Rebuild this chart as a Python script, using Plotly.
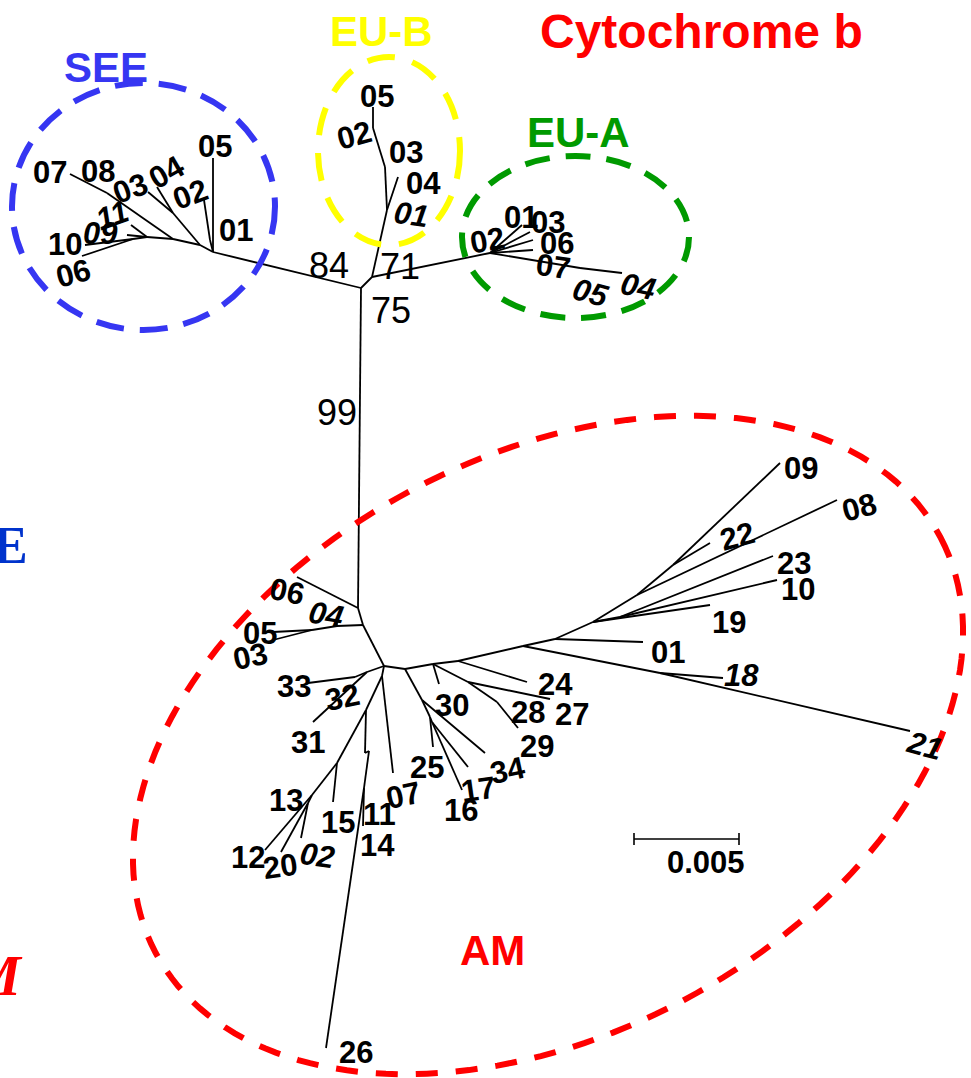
import numpy as np
import plotly.graph_objects as go

# ---------------------------------------------------------------
# Unrooted neighbour-joining tree of cytochrome b haplotypes.
# Node coordinates are the drawn layout of the tree (screen units,
# y grows downwards); every node points to its parent.
# ---------------------------------------------------------------
NODE_ID = [
    "root", "eu", "s0", "am0",
    # SEE clade
    "s2", "s4", "SEE03", "SEE04", "s3", "s5", "SEE07", "s6", "SEE11", "SEE09",
    "s8", "SEE10", "SEE06", "s1", "SEE02", "SEE05",
    # EU-B clade
    "eb1", "EUB04", "eb2", "eb3", "EUB05",
    # EU-A clade
    "ea0", "EUA01", "EUA03", "EUA06", "EUA07", "ea1", "EUA04",
    # AM clade
    "AM06", "am1", "am2", "AM04", "am3", "AM05", "AM03", "amc",
    "c1", "AM31", "c2", "AM33",
    "e", "AM07", "f", "h", "h2", "h3", "AM26", "AM14",
    "g", "AM15", "i", "AM12", "j", "AM20", "AM02",
    "k", "l", "AM34", "m", "AM25", "n", "AM16", "AM17",
    "k2", "AM30", "p", "AM27", "q", "AM29", "k3", "AM24",
    "r", "s", "AM21", "AM18", "t", "AM01", "u", "v", "AM23", "AM10", "AM19",
    "y", "AM08", "z", "AM22", "AM09",
]
NODE_X = [
    361, 372, 213, 358,
    200, 173, 148, 157, 173, 107, 70, 147, 131, 127,
    133, 85, 82, 210, 204, 213,
    387, 398, 385, 373, 373,
    490, 522, 530, 533, 533, 580, 622,
    297, 363, 337, 336, 312, 273, 273, 384,
    367, 313, 355, 308,
    382, 393, 366, 365, 369, 364, 326, 363,
    337, 333, 312, 265, 308, 281, 301,
    405, 422, 485, 430, 433, 432, 462, 468,
    433, 439, 468, 550, 497, 518, 458, 527,
    523, 660, 910, 723, 555, 643, 593, 620, 773, 777, 710,
    637, 837, 673, 710, 780,
]
NODE_Y = [
    288, 277, 252, 608,
    245, 213, 192, 187, 239, 193, 174, 237, 225, 235,
    239, 245, 256, 240, 200, 158,
    210, 177, 167, 128, 107,
    253, 225, 232, 240, 250, 268, 273,
    577, 625, 626, 620, 630, 632, 640, 666,
    672, 722, 677, 683,
    676, 773, 710, 753, 751, 788, 1048, 826,
    763, 802, 795, 850, 803, 852, 838,
    669, 700, 753, 717, 747, 722, 790, 767,
    664, 684, 682, 699, 702, 728, 661, 682,
    646, 673, 731, 678, 639, 642, 622, 617, 556, 580, 605,
    595, 500, 565, 543, 463,
]
NODE_PARENT = [
    None, "root", "root", "root",
    "s0", "s2", "s4", "s4", "s2", "s3", "s5", "s3", "s6", "s6",
    "s6", "s8", "s8", "s0", "s1", "s0",
    "eu", "eb1", "eb1", "eb2", "eb3",
    "eu", "ea0", "ea0", "ea0", "ea0", "ea0", "ea1",
    "am0", "am0", "am1", "am2", "am2", "am3", "am3", "am1",
    "amc", "c1", "c1", "c2",
    "amc", "e", "e", "f", "h", "h2", "h3", "h3",
    "f", "g", "g", "i", "i", "j", "j",
    "amc", "k", "l", "l", "m", "m", "n", "n",
    "k", "k2", "k2", "p", "p", "q", "k2", "k3",
    "k3", "r", "s", "s", "r", "t", "t", "u", "v", "v", "u",
    "u", "y", "y", "z", "z",
]

# Haplotype labels: node -> text
HAPLOTYPE = {
    "SEE07": "07", "s5": "08", "SEE03": "03", "SEE04": "04", "SEE02": "02",
    "SEE05": "05", "s1": "01", "SEE11": "11", "SEE09": "09", "SEE10": "10",
    "SEE06": "06",
    "EUB05": "05", "eb3": "02", "eb2": "03", "EUB04": "04", "eb1": "01",
    "ea0": "02", "EUA01": "01", "EUA03": "03", "EUA06": "06", "EUA07": "07",
    "ea1": "05", "EUA04": "04",
    "AM06": "06", "AM04": "04", "AM05": "05", "AM03": "03", "AM33": "33",
    "c2": "32", "AM31": "31", "AM30": "30", "AM24": "24", "q": "28",
    "AM27": "27", "AM29": "29", "AM34": "34", "AM25": "25", "AM17": "17",
    "AM16": "16", "AM07": "07", "h2": "11", "AM14": "14", "AM15": "15",
    "i": "13", "AM12": "12", "AM20": "20", "AM02": "02", "AM26": "26",
    "AM09": "09", "AM08": "08", "AM22": "22", "AM23": "23", "AM10": "10",
    "AM19": "19", "AM01": "01", "AM18": "18", "AM21": "21",
}

# Bootstrap support on the backbone
SUPPORT = ["84", "71", "75", "99"]

# Clade names
CLADES = ["SEE", "EU-B", "EU-A", "AM"]
TITLE = "Cytochrome b"

# Scale bar (substitutions per site) and its drawn length
SCALE_VALUE = 0.005
UNITS_PER_SUBST = 105 / 0.005

# ---------------------------------------------------------------
# Label placement: centre x, centre y, rotation (deg, clockwise), italic
# ---------------------------------------------------------------
LABEL_PLACE = {
    "SEE07": (50, 172, 0, False), "s5": (98, 171, 0, False),
    "SEE03": (130, 188, -20, False), "SEE04": (166, 172, -30, False),
    "SEE02": (190, 194, -20, False), "SEE05": (215, 146, 0, False),
    "s1": (236, 230, 0, False), "SEE11": (112, 215, -20, True),
    "SEE09": (100, 233, 0, True), "SEE10": (65, 244, 0, False),
    "SEE06": (73, 273, -15, False),
    "EUB05": (377, 96, 0, False), "eb3": (354, 135, -15, False),
    "eb2": (406, 152, 0, False), "EUB04": (423, 183, 0, False),
    "eb1": (411, 214, 8, True),
    "ea0": (487, 240, -10, False), "EUA01": (521, 217, 0, False),
    "EUA03": (548, 222, 0, False), "EUA06": (557, 243, 0, False),
    "EUA07": (553, 266, 8, False), "ea1": (590, 292, 15, True),
    "EUA04": (638, 286, 12, True),
    "AM06": (287, 591, 12, False), "AM04": (326, 614, 10, True),
    "AM05": (260, 633, 0, False), "AM03": (250, 656, -12, False),
    "AM33": (294, 686, 0, False), "c2": (342, 697, -12, False),
    "AM31": (308, 742, 0, False), "AM30": (452, 705, 0, False),
    "AM24": (555, 684, 0, False), "q": (528, 712, 0, False),
    "AM27": (572, 714, 0, False), "AM29": (537, 746, 0, False),
    "AM34": (507, 770, -12, False), "AM25": (427, 767, 0, False),
    "AM17": (478, 789, -8, False), "AM16": (461, 810, 0, False),
    "AM07": (403, 795, -12, False), "h2": (379, 814, 0, False),
    "AM14": (377, 845, 0, False), "AM15": (338, 822, 0, False),
    "i": (286, 800, 0, False), "AM12": (248, 857, 0, False),
    "AM20": (280, 866, -8, False), "AM02": (317, 855, 8, True),
    "AM26": (356, 1052, 0, False),
    "AM09": (801, 468, 0, False), "AM08": (859, 507, -15, False),
    "AM22": (737, 536, -15, False), "AM23": (794, 563, 0, False),
    "AM10": (798, 589, 0, False), "AM19": (729, 622, 0, False),
    "AM01": (668, 652, 0, False), "AM18": (741, 675, 0, True),
    "AM21": (924, 745, 15, True),
}
SUPPORT_PLACE = [(329, 265), (400, 266), (391, 310), (337, 412)]
CLADE_PLACE = [(106, 67), (381, 31), (578, 132), (492, 950)]
CLADE_COLOR = ["#3636f2", "#ffff00", "#009a00", "#ff0000"]

W, H = 971, 1078
FONT = "Liberation Sans, Arial, sans-serif"

pos = {n: (x, y) for n, x, y in zip(NODE_ID, NODE_X, NODE_Y)}

# Branches as one polyline trace separated by gaps
bx, by = [], []
for n, par in zip(NODE_ID, NODE_PARENT):
    if par is None:
        continue
    x0, y0 = pos[par]
    x1, y1 = pos[n]
    bx += [x0, x1, None]
    by += [y0, y1, None]

fig = go.Figure()
fig.add_trace(go.Scatter(x=bx, y=by, mode="lines",
                         line=dict(color="black", width=1.8),
                         hoverinfo="skip", showlegend=False))

# Scale bar
sb_x0, sb_y = 634, 839
sb_len = SCALE_VALUE * UNITS_PER_SUBST
fig.add_trace(go.Scatter(
    x=[sb_x0, sb_x0 + sb_len, None, sb_x0, sb_x0, None, sb_x0 + sb_len, sb_x0 + sb_len],
    y=[sb_y, sb_y, None, sb_y - 6, sb_y + 6, None, sb_y - 6, sb_y + 6],
    mode="lines", line=dict(color="black", width=1.6),
    hoverinfo="skip", showlegend=False))

ann = []
for node, text in HAPLOTYPE.items():
    lx, ly, ang, it = LABEL_PLACE[node]
    t = f"<b>{text}</b>"
    if it:
        t = f"<i>{t}</i>"
    ann.append(dict(x=lx, y=ly, text=t, showarrow=False, textangle=ang,
                    xanchor="center", yanchor="middle",
                    font=dict(family=FONT, size=31, color="black")))

for (sx, sy), s in zip(SUPPORT_PLACE, SUPPORT):
    ann.append(dict(x=sx, y=sy, text=s, showarrow=False,
                    xanchor="center", yanchor="middle",
                    font=dict(family=FONT, size=36, color="black")))

for (cx, cy), name, col in zip(CLADE_PLACE, CLADES, CLADE_COLOR):
    ann.append(dict(x=cx, y=cy, text=f"<b>{name}</b>", showarrow=False,
                    xanchor="center", yanchor="middle",
                    font=dict(family=FONT, size=42, color=col)))

ann.append(dict(x=701, y=31, text=f"<b>{TITLE}</b>", showarrow=False,
                xanchor="center", yanchor="middle",
                font=dict(family=FONT, size=48, color="#ff0000")))
ann.append(dict(x=706, y=862, text=f"<b>{SCALE_VALUE}</b>", showarrow=False,
                xanchor="center", yanchor="middle",
                font=dict(family=FONT, size=31, color="black")))

# Letters of neighbouring panel headings running in from the left edge
ann.append(dict(x=30, y=545, text="<b>E</b>", showarrow=False,
                xanchor="right", yanchor="middle",
                font=dict(family="Liberation Serif, Times New Roman, serif",
                          size=52, color="#0033cc")))
ann.append(dict(x=25, y=976, text="<b><i>M</i></b>", showarrow=False,
                xanchor="right", yanchor="middle",
                font=dict(family="Liberation Serif, Times New Roman, serif",
                          size=56, color="#ff0000")))

# Dashed clade outlines
shapes = [
    dict(type="circle", xref="x", yref="y", x0=12, x1=275, y0=83, y1=330,
         line=dict(color=CLADE_COLOR[0], width=6, dash="28px,16px")),
    dict(type="circle", xref="x", yref="y", x0=318, x1=460, y0=57, y1=245,
         line=dict(color=CLADE_COLOR[1], width=6, dash="28px,18px")),
    dict(type="circle", xref="x", yref="y", x0=462, x1=689, y0=156, y1=318,
         line=dict(color=CLADE_COLOR[2], width=6, dash="25px,16px")),
]
# AM outline is a tilted ellipse
cx, cy, a, b, th = 548, 745, 444, 289, np.deg2rad(27.9)
phi = np.linspace(0, 2 * np.pi, 181)
ex = cx + a * np.cos(phi) * np.cos(th) + b * np.sin(phi) * np.sin(th)
ey = cy - a * np.cos(phi) * np.sin(th) + b * np.sin(phi) * np.cos(th)
path = "M " + " L ".join(f"{px:.1f},{py:.1f}" for px, py in zip(ex, ey)) + " Z"
shapes.append(dict(type="path", xref="x", yref="y", path=path,
                   line=dict(color=CLADE_COLOR[3], width=6, dash="22px,18px")))

fig.update_layout(
    width=W, height=H, margin=dict(l=0, r=0, t=0, b=0),
    paper_bgcolor="white", plot_bgcolor="white",
    xaxis=dict(range=[0, W], visible=False, fixedrange=True),
    yaxis=dict(range=[H, 0], visible=False, fixedrange=True),
    annotations=ann, shapes=shapes, showlegend=False,
)

fig.write_html("out.html")
